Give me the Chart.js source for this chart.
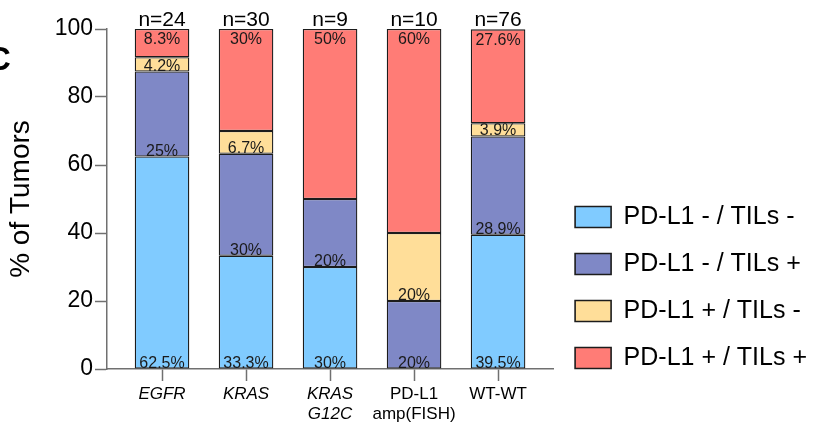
<!DOCTYPE html>
<html>
<head>
<meta charset="utf-8">
<script src="https://cdn.jsdelivr.net/npm/chart.js@4.4.1/dist/chart.umd.min.js"></script>
<style>
  html, body { margin: 0; padding: 0; background: #ffffff; }
  #wrap { width: 819px; height: 427px; position: relative; }
</style>
</head>
<body>
<div id="wrap"><canvas id="chart"></canvas></div>
<script>
// Tumor groups (multi-line labels) and which ones are set in italics
const categories = [['EGFR'], ['KRAS'], ['KRAS', 'G12C'], ['PD-L1', 'amp(FISH)'], ['WT-WT']];
const italicCategory = [true, true, true, false, false];
const sampleSizes = [24, 30, 9, 10, 76];

// Percent of tumors in each PD-L1 / TIL class
const seriesNames = ['PD-L1 - / TILs -', 'PD-L1 - / TILs +', 'PD-L1 + / TILs -', 'PD-L1 + / TILs +'];
const negNeg = [62.5, 33.3, 30, 0, 39.5];
const negPos = [25, 30, 20, 20, 28.9];
const posNeg = [4.2, 6.7, 0, 20, 3.9];
const posPos = [8.3, 30, 50, 60, 27.6];
const seriesValues = [negNeg, negPos, posNeg, posPos];
const seriesColors = ['#80CBFF', '#7F88C6', '#FFDE99', '#FF7C76'];

const yTicks = [0, 20, 40, 60, 80, 100];

const FONT = 'Liberation Sans, Arial, Helvetica, sans-serif';
const AXIS_GREY = '#707070';
const EDGE = '#1c1c1c';

const datasets = seriesValues.map((vals, d) => ({
  label: seriesNames[d],
  data: vals.map((v, i) => ({ x: i, y: v })),
  backgroundColor: seriesColors[d],
  borderColor: EDGE,
  borderWidth: 1.3,
  borderSkipped: false,
  categoryPercentage: 1,
  barPercentage: 0.65
}));

// Percent labels inside each segment plus the n= counts above each column
const segmentLabels = {
  id: 'segmentLabels',
  afterDatasetsDraw(chart) {
    const ctx = chart.ctx;
    ctx.save();
    ctx.fillStyle = '#1a1a1a';
    ctx.textAlign = 'center';
    ctx.font = '16px ' + FONT;
    seriesValues.forEach((vals, d) => {
      const meta = chart.getDatasetMeta(d);
      meta.data.forEach((bar, i) => {
        const v = vals[i];
        if (!v) return;
        const p = bar.getProps(['x', 'y', 'base', 'width'], true);
        const top = Math.min(p.y, p.base), bottom = Math.max(p.y, p.base);
        ctx.save();
        ctx.beginPath();
        ctx.rect(p.x - p.width / 2, top, p.width, bottom - top);
        ctx.clip();
        if (d === seriesValues.length - 1) {
          ctx.textBaseline = 'top';
          ctx.fillText(v + '%', p.x, top + 3);
        } else {
          ctx.textBaseline = 'alphabetic';
          ctx.fillText(v + '%', p.x, bottom - 1);
        }
        ctx.restore();
      });
    });
    // column totals
    const topMeta = chart.getDatasetMeta(seriesValues.length - 1);
    ctx.font = '21px ' + FONT;
    ctx.fillStyle = '#000';
    ctx.textBaseline = 'alphabetic';
    topMeta.data.forEach((bar, i) => {
      const p = bar.getProps(['x', 'y'], true);
      ctx.fillText('n=' + sampleSizes[i], p.x, p.y - 3);
    });
    ctx.restore();
  },
  afterDraw(chart) {
    // panel letter
    const ctx = chart.ctx;
    ctx.save();
    ctx.fillStyle = '#000';
    ctx.font = 'bold 33px ' + FONT;
    ctx.textAlign = 'left';
    ctx.textBaseline = 'alphabetic';
    ctx.fillText('C', -13, 70);
    ctx.restore();
  }
};

new Chart(document.getElementById('chart'), {
  type: 'bar',
  data: { datasets },
  plugins: [segmentLabels],
  options: {
    responsive: true,
    maintainAspectRatio: false,
    animation: false,
    events: [],
    layout: { padding: { top: 29, right: 2, bottom: 0, left: 0 } },
    plugins: {
      tooltip: { enabled: false },
      legend: {
        position: 'right',
        align: 'start',
        maxWidth: 300,
        title: { display: true, text: '', font: { size: 12 }, padding: { top: 139.1, bottom: 0 } },
        labels: {
          color: '#000',
          font: { family: FONT, size: 25 },
          boxWidth: 36,
          boxHeight: 21,
          padding: 22,
          generateLabels(chart) {
            const items = Chart.defaults.plugins.legend.labels.generateLabels(chart);
            items.forEach(it => { it.lineWidth = 1.6; it.strokeStyle = EDGE; });
            return items;
          }
        }
      }
    },
    scales: {
      x: {
        type: 'linear',
        stacked: true,
        offset: false,
        min: -0.655,
        max: 4.655,
        afterBuildTicks(scale) {
          scale.ticks = categories.map((_, i) => ({ value: i }));
        },
        afterFit(scale) { scale.height = 58; },
        border: { color: AXIS_GREY, width: 1.5 },
        grid: {
          offset: false,
          drawOnChartArea: false,
          drawTicks: true,
          tickLength: 12,
          color: AXIS_GREY,
          tickWidth: 1.5
        },
        ticks: {
          autoSkip: false,
          maxRotation: 0,
          padding: 3,
          color: '#000',
          font: (c) => ({ family: FONT, size: 17, style: italicCategory[c.index] ? 'italic' : 'normal', lineHeight: 1.2 }),
          callback: (value) => categories[value]
        }
      },
      y: {
        stacked: true,
        min: 0,
        max: 100,
        afterBuildTicks(scale) {
          scale.ticks = yTicks.map(v => ({ value: v }));
        },
        afterFit(scale) { scale.width = 107; },
        border: { color: AXIS_GREY, width: 1.5 },
        grid: {
          drawOnChartArea: false,
          drawTicks: true,
          tickLength: 12,
          color: AXIS_GREY,
          tickWidth: 1.5
        },
        ticks: {
          padding: 2,
          color: '#000',
          font: { family: FONT, size: 23 }
        },
        title: {
          display: true,
          text: '% of Tumors',
          color: '#000',
          font: { family: FONT, size: 28 },
          padding: { top: 4, bottom: 0 }
        }
      }
    }
  }
});
</script>
</body>
</html>
